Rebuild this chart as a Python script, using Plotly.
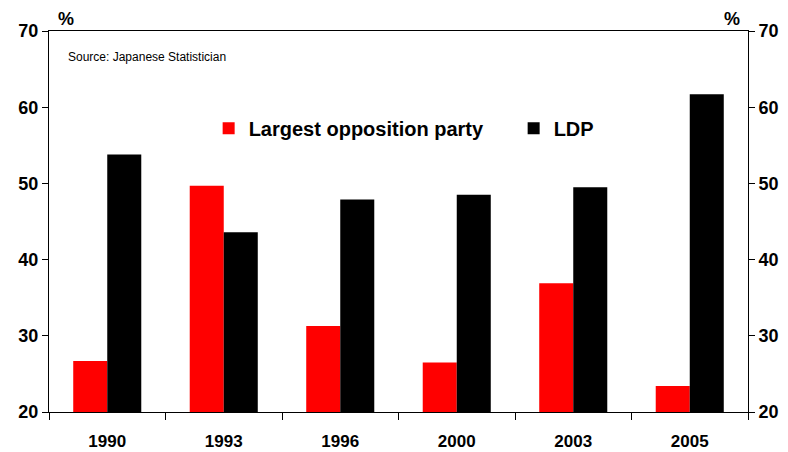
import plotly.graph_objects as go

years = ["1990", "1993", "1996", "2000", "2003", "2005"]
opposition = [26.7, 49.7, 31.3, 26.5, 36.9, 23.4]
ldp = [53.8, 43.6, 47.9, 48.5, 49.5, 61.7]
y_ticks = [20, 30, 40, 50, 60, 70]

FONT = "Liberation Sans, Arial, sans-serif"

fig = go.Figure()
fig.add_trace(go.Bar(x=years, y=opposition, name="Largest opposition party",
                     marker=dict(color="#ff0000", line=dict(width=0))))
fig.add_trace(go.Bar(x=years, y=ldp, name="LDP",
                     marker=dict(color="#000000", line=dict(width=0))))
# invisible trace to bind the right axis
fig.add_trace(go.Scatter(x=years, y=ldp, yaxis="y2", mode="markers",
                         marker=dict(opacity=0), showlegend=False, hoverinfo="skip"))

axis_common = dict(range=[20, 70], tickvals=y_ticks, ticks="outside", ticklen=6,
                   tickwidth=1, tickcolor="black", showgrid=False, zeroline=False,
                   showline=True, linecolor="black", linewidth=1, automargin=False,
                   tickfont=dict(family=FONT, size=18, color="black", weight="bold"))

fig.update_layout(
    width=788, height=452,
    margin=dict(l=49, r=40, t=31, b=40, autoexpand=False),
    paper_bgcolor="white", plot_bgcolor="white",
    barmode="group", bargap=0.416, bargroupgap=0,
    font=dict(family=FONT, color="black"),
    xaxis=dict(type="category", ticks="outside", tickson="boundaries", ticklen=7,
               tickcolor="black", showline=True, linecolor="black", linewidth=1,
               mirror=True, showgrid=False, automargin=False,
               tickfont=dict(family=FONT, size=17, color="black", weight="bold"),
               ticklabelstandoff=14),
    yaxis=dict(**axis_common, side="left"),
    yaxis2=dict(**axis_common, side="right", overlaying="y"),
    legend=dict(orientation="h", x=0.2284, y=0.745, xanchor="left", yanchor="middle",
                font=dict(family=FONT, size=20, color="black", weight="bold"),
                entrywidth=260, entrywidthmode="pixels", bgcolor="rgba(0,0,0,0)",
                itemwidth=30),
    showlegend=True,
    annotations=[
        dict(text="<b>%</b>", x=0, xref="paper", xshift=17, y=1, yref="paper",
             xanchor="center", yanchor="bottom", showarrow=False,
             font=dict(family=FONT, size=18, color="black")),
        dict(text="<b>%</b>", x=1, xref="paper", xshift=-16, y=1, yref="paper",
             xanchor="center", yanchor="bottom", showarrow=False,
             font=dict(family=FONT, size=18, color="black")),
        dict(text="Source: Japanese Statistician", x=0, xref="paper", xshift=17,
             y=66.6, yref="y", xanchor="left", yanchor="middle", showarrow=False,
             font=dict(family=FONT, size=12, color="black")),
    ],
)

fig.write_html("out.html")
